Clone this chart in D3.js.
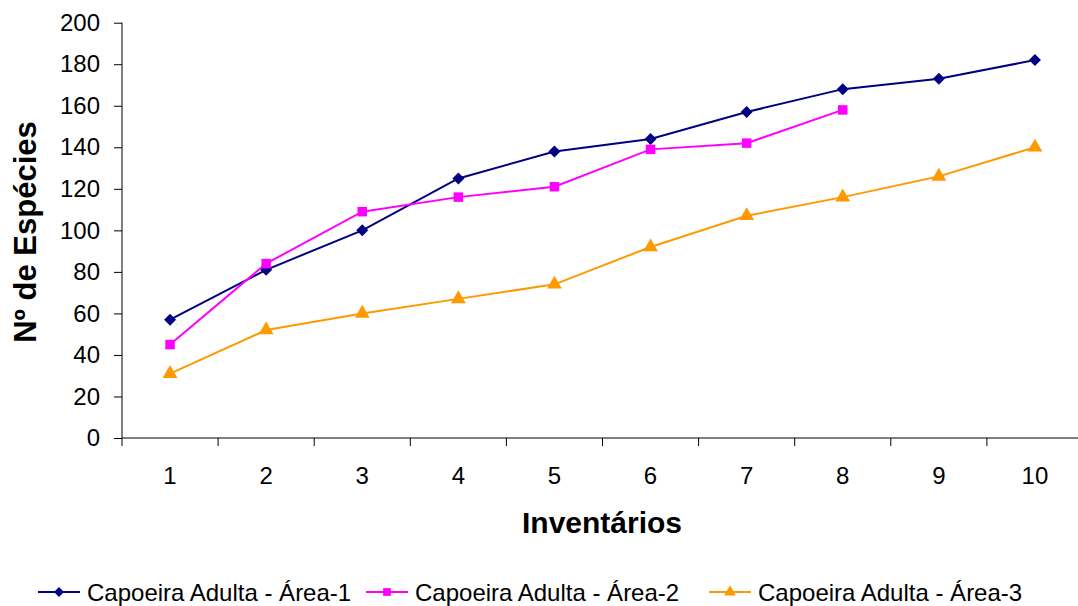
<!DOCTYPE html>
<html>
<head>
<meta charset="utf-8">
<script src="https://cdn.jsdelivr.net/npm/d3@7"></script>
<style>
  html, body { margin: 0; padding: 0; background: #fff; }
  svg { display: block; font-family: "Liberation Sans", Arial, sans-serif; }
</style>
</head>
<body>
<svg id="chart" width="1078" height="606"></svg>
<script>
// Species accumulation per inventory
const inventarios = ["1", "2", "3", "4", "5", "6", "7", "8", "9", "10"];
const area1 = [57, 81, 100, 125, 138, 144, 157, 168, 173, 182];
const area2 = [45, 84, 109, 116, 121, 139, 142, 158];
const area3 = [31, 52, 60, 67, 74, 92, 107, 116, 126, 140];
const yTicks = [0, 20, 40, 60, 80, 100, 120, 140, 160, 180, 200];
const seriesNames = ["Capoeira Adulta - Área-1", "Capoeira Adulta - Área-2", "Capoeira Adulta - Área-3"];

// Square diamond (rotated square) marker
const diamond = {
  draw(ctx, size) {
    const r = Math.sqrt(size / 2);
    ctx.moveTo(0, -r); ctx.lineTo(r, 0); ctx.lineTo(0, r); ctx.lineTo(-r, 0); ctx.closePath();
  }
};

const series = [
  { name: seriesNames[0], values: area1, color: "#000080", symbol: diamond, size: 72, legendSize: 50 },
  { name: seriesNames[1], values: area2, color: "#FF00FF", symbol: d3.symbolSquare, size: 90, legendSize: 60 },
  { name: seriesNames[2], values: area3, color: "#FF9900", symbol: d3.symbolTriangle, size: 95, legendSize: 60 }
];

const svg = d3.select("#chart");
const plotLeft = 122, plotRight = 1083, plotTop = 22.7, plotBottom = 438;

const x = d3.scaleBand().domain(inventarios).range([plotLeft, plotRight]);
const y = d3.scaleLinear().domain([0, 200]).range([plotBottom, plotTop]);

// Y axis
const yAxis = svg.append("g")
  .attr("transform", `translate(${plotLeft},0)`)
  .call(d3.axisLeft(y).tickValues(yTicks).tickSize(8).tickPadding(14));
yAxis.select(".domain").attr("stroke", "#000").attr("d", `M0,${plotTop}V${plotBottom}`);
yAxis.selectAll(".tick line").attr("stroke", "#000");
yAxis.selectAll(".tick text").attr("font-size", 24).attr("fill", "#000")
  .attr("font-family", "'Liberation Sans', Arial, sans-serif");

// X axis: ticks between categories
const xAxisG = svg.append("g").attr("transform", `translate(0,${plotBottom})`);
xAxisG.append("line").attr("x1", plotLeft).attr("x2", plotRight).attr("y1", 0).attr("y2", 0).attr("stroke", "#000");
const boundaries = inventarios.map(c => x(c)).concat([x(inventarios[inventarios.length - 1]) + x.bandwidth()]);
xAxisG.selectAll("line.tk").data(boundaries).join("line").attr("class", "tk")
  .attr("x1", d => d).attr("x2", d => d).attr("y1", 0).attr("y2", 8).attr("stroke", "#000");
xAxisG.selectAll("text").data(inventarios).join("text")
  .attr("x", d => x(d) + x.bandwidth() / 2).attr("y", 46)
  .attr("text-anchor", "middle").attr("font-size", 24).attr("fill", "#000")
  .text(d => d);

// Axis titles
svg.append("text").attr("x", 602).attr("y", 533).attr("text-anchor", "middle")
  .attr("font-size", 30).attr("font-weight", "bold").text("Inventários");
svg.append("text").attr("transform", "translate(36,232) rotate(-90)").attr("text-anchor", "middle")
  .attr("font-size", 31).attr("font-weight", "bold").text("Nº de Espécies");

// Lines and markers
const cx = i => x(inventarios[i]) + x.bandwidth() / 2;
const line = d3.line().x((d, i) => cx(i)).y(d => y(d));
series.forEach(s => {
  svg.append("path").datum(s.values).attr("d", line)
    .attr("fill", "none").attr("stroke", s.color).attr("stroke-width", 2);
  svg.append("g").selectAll("path").data(s.values).join("path")
    .attr("transform", (d, i) => `translate(${cx(i)},${y(d)})`)
    .attr("d", d3.symbol().type(s.symbol).size(s.size))
    .attr("fill", s.color);
});

// Legend
const legendX = [38, 366, 709];
const legendY = 592;
series.forEach((s, i) => {
  const g = svg.append("g").attr("transform", `translate(${legendX[i]},${legendY})`);
  g.append("line").attr("x1", 0).attr("x2", 42).attr("stroke", s.color).attr("stroke-width", 2);
  g.append("path").attr("transform", "translate(21,0)")
    .attr("d", d3.symbol().type(s.symbol).size(s.legendSize)).attr("fill", s.color);
  g.append("text").attr("x", 49).attr("y", 8.5).attr("font-size", 24).attr("fill", "#000").text(s.name);
});
</script>
</body>
</html>
